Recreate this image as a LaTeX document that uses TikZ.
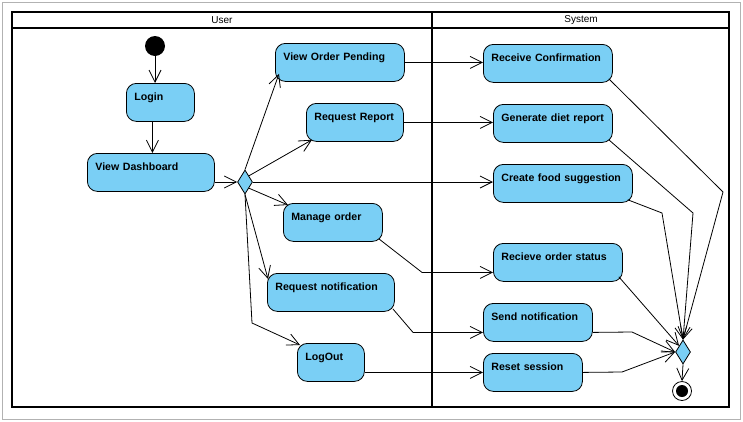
\documentclass[tikz,border=0pt]{standalone}
\usepackage{fontspec}
\setmainfont{Liberation Sans}
\usetikzlibrary{shapes.geometric}
\usetikzlibrary{arrows.meta}
\definecolor{actblue}{RGB}{122,207,245}
\hyphenpenalty=10000

\begin{document}
\begin{tikzpicture}[x=1pt, y=-1pt, line width=0.8pt,
    >={Straight Barb[length=12pt,width=12pt]},
    action/.style ={ rectangle, rounded corners=10pt, draw, fill=actblue, anchor=north west,
    font=\fontsize{10.6}{12}\selectfont\bfseries, align=left, inner xsep=8pt,
    minimum height=38pt, text height=8pt, text depth=12pt, text width=#1},
    branch/.style ={ diamond, draw, fill=actblue, inner sep=0pt, minimum width=15pt, minimum height=24pt},
    lane/.style ={ line width=1.6pt},
    lanetitle/.style ={ font=\fontsize{10}{12}\selectfont}]
    \useasboundingbox (0,0) rectangle (743,421);
    \draw[gray!60] (2,2) rectangle (740,419);
    % swimlanes
    \draw[lane] (12,12) rectangle (729,407);
    \draw[lane] (12,28) -- (729,28);
    \draw[lane] (432,12) -- (432,407);
    \node[lanetitle] (user) at (222,20) {User};
    \node[lanetitle] (system) at (581,20) {System};
    % user lane
    \node[circle, fill, minimum size=20pt, inner sep=0pt] (start) at (155,46) {};
    \node[action=52pt] (login) at (126,83) {Login};
    \node[action=111pt] (dash) at (87,153) {View Dashboard};
    \node[branch] (dec) at (245,182) {};
    \node[action=113pt] (vop) at (275,43) {View Order Pending};
    \node[action=81pt] (rr) at (306,103) {Request Report};
    \node[action=83pt] (mo) at (283,203) {Manage order};
    \node[action=111pt] (rn) at (267,273) {Request notification};
    \node[action=51pt] (lo) at (297,343) {LogOut};
    % system lane
    \node[action=113pt] (rc) at (483,44) {Receive Confirmation};
    \node[action=103pt] (gd) at (493,104) {Generate diet report};
    \node[action=123pt] (cf) at (493,164) {Create food suggestion};
    \node[action=113pt] (ros) at (493,243) {Recieve order status};
    \node[action=93pt] (sn) at (483,303) {Send notification};
    \node[action=83pt] (rs) at (483,353) {Reset session};
    \node[branch] (mrg) at (683,352) {};
    \node[circle, draw, fill=white, minimum size=19pt, inner sep=0pt,
      path picture={\fill[black] (path picture bounding box.center) circle (6pt);}] (fin) at (682,391) {};
    % flows
    \draw[->] (start) -- (start |- login.north);
    \draw[->] ([xshift=-8pt]login.south) -- ([xshift=-8pt]login.south |- dash.north);
    \draw[->] (dash.east |- dec.west) -- (dec.west);
    \draw[->] (dec.north) -- ([shift={(4,-8)}]vop.south west);
    \draw[->] (dec.north east) -- ([shift={(6,-2)}]rr.south west);
    \draw[->] (dec.east) -- (dec.east -| cf.west);
    \draw[->] (dec.south east) -- ([shift={(5,2)}]mo.north west);
    \draw[->] (dec.south) -- ([shift={(1,6)}]rn.north west);
    \draw[->] (dec.south) -- ([shift={(-45,-20)}]lo.north west) -- ([shift={(3,2)}]lo.north west);
    \draw[->] (vop.east) -- (vop.east -| rc.west);
    \draw[->] (rr.east) -- (rr.east -| gd.west);
    \draw[->] ([shift={(-4,-3)}]mo.south east) -- ([shift={(-71,10)}]ros.west) -- ([shift={(0,10)}]ros.west);
    \draw[->] ([shift={(-2,-3)}]rn.south east) -- ([shift={(-70,10)}]sn.west) -- ([shift={(0,10)}]sn.west);
    \draw[->] (lo.east |- rs.west) -- (rs.west);
    \draw[->] ([shift={(-4,-4)}]rc.south east) -- (723,192) -- (mrg.north);
    \draw[->] ([shift={(-4,-3)}]gd.south east) -- (693,213) -- (mrg.north);
    \draw[->] ([shift={(-5,-3)}]cf.south east) -- (662,213) -- (mrg.north);
    \draw[->] ([shift={(-4,-5)}]ros.south east) -- (mrg.north west);
    \draw[->] ([shift={(0,10)}]sn.east) -- (632,332) -- (mrg.west);
    \draw[->] (rs.east) -- (622,372) -- (mrg.west);
    \draw[->] (mrg.south) -- (fin.north);
\end{tikzpicture}
\end{document}
